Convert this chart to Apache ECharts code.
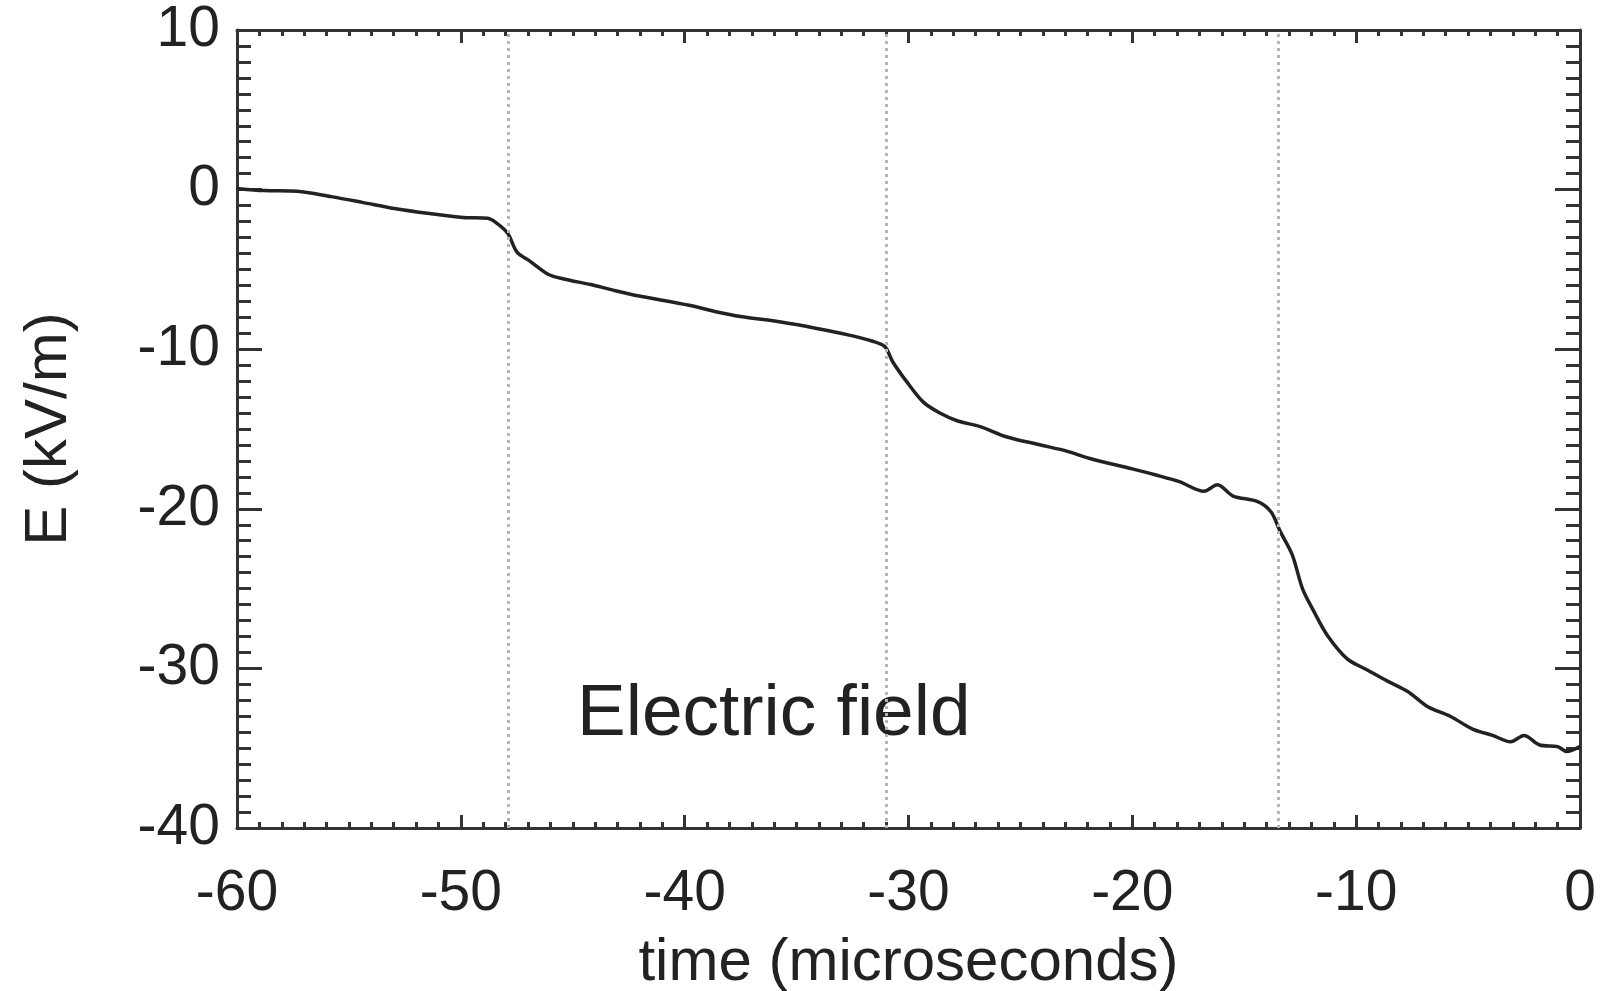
<!DOCTYPE html>
<html>
<head>
<meta charset="utf-8">
<script src="https://cdn.jsdelivr.net/npm/echarts@6/dist/echarts.min.js"></script>
<style>
  html, body { margin: 0; padding: 0; background: #fff; }
  #chart { width: 1602px; height: 991px; }
</style>
</head>
<body>
<div id="chart"></div>
<script>
// time in microseconds, field in kV/m
var timeUs = [
  -60, -59.9, -58.8, -57.3, -55.8, -54.4, -52.9, -51.4, -49.9, -48.8, -48.4,
  -47.9, -47.5, -46.9, -46.1, -45.4, -44.2, -43.2, -42.1, -39.8, -38.6,
  -37.5, -35.7, -34.1, -32.7, -31.6, -31.05, -30.7, -30.1, -29.35, -28.6,
  -27.8, -26.8, -25.6, -24.1, -22.9, -21.9, -20.0, -18.9, -17.9, -16.8,
  -16.2, -15.5, -14.4, -13.8, -13.4, -12.85, -12.4, -11.9, -11.3, -10.4,
  -9.5, -8.6, -7.7, -6.8, -5.8, -4.8, -3.9, -3.1, -2.5, -1.8, -1.0, -0.6, 0
]
var fieldKV = [
  0.1, 0.06, -0.06, -0.1, -0.44, -0.8, -1.2, -1.5, -1.75, -1.8, -2.1,
  -2.75, -3.9, -4.5, -5.3, -5.6, -5.95, -6.3, -6.65, -7.25, -7.65,
  -7.95, -8.3, -8.7, -9.1, -9.5, -9.85, -10.8, -12.0, -13.3, -14.0,
  -14.5, -14.85, -15.5, -16.0, -16.4, -16.85, -17.5, -17.9, -18.3, -18.9,
  -18.5, -19.2, -19.55, -20.2, -21.4, -22.9, -25.0, -26.4, -27.9, -29.4,
  -30.1, -30.8, -31.45, -32.4, -33.0, -33.8, -34.2, -34.6, -34.2, -34.8, -34.9, -35.2, -34.9
]
// dotted markers at the steps
var markerTimes = [-47.9, -31, -13.5]

var FONT = "'Liberation Sans', Arial, sans-serif"
var INK = '#222'

var points = timeUs.map(function (t, i) { return [t, fieldKV[i]] })

var chart = echarts.init(document.getElementById('chart'), null, { renderer: 'canvas' })

function xAxisBase(pos, showLabels) {
  return {
    type: 'value',
    position: pos,
    min: -60,
    max: 0,
    interval: 10,
    axisLine: { show: true, onZero: false, lineStyle: { color: '#333', width: 3 } },
    axisTick: { show: true, inside: true, length: 13, lineStyle: { color: '#333', width: 3 } },
    minorTick: { show: true, splitNumber: 10, length: 6, lineStyle: { color: '#333', width: 3 } },
    splitLine: { show: false },
    axisLabel: { show: showLabels, margin: 38, fontSize: 57, color: INK, fontFamily: FONT }
  }
}
function yAxisBase(pos, showLabels) {
  return {
    type: 'value',
    position: pos,
    min: -40,
    max: 10,
    interval: 10,
    axisLine: { show: true, onZero: false, lineStyle: { color: '#333', width: 3 } },
    axisTick: { show: true, inside: true, length: 25, lineStyle: { color: '#333', width: 3 } },
    minorTick: { show: true, splitNumber: 10, length: 14, lineStyle: { color: '#333', width: 3 } },
    splitLine: { show: false },
    axisLabel: { show: showLabels, margin: 17, fontSize: 57, color: INK, fontFamily: FONT }
  }
}

var xBottom = xAxisBase('bottom', true)
xBottom.name = 'time (microseconds)'
xBottom.nameLocation = 'middle'
xBottom.nameGap = 105
xBottom.nameTextStyle = { fontSize: 60, color: INK, fontFamily: FONT }

var yLeft = yAxisBase('left', true)
yLeft.name = 'E (kV/m)'
yLeft.nameLocation = 'middle'
yLeft.nameGap = 158
yLeft.nameTextStyle = { fontSize: 60, color: INK, fontFamily: FONT }

var option = {
  backgroundColor: '#fff',
  animation: false,
  grid: { left: 237, right: 22, top: 30, bottom: 163, outerBoundsMode: 'none' },
  xAxis: [xBottom, xAxisBase('top', false)],
  yAxis: [yLeft, yAxisBase('right', false)],
  graphic: [
    {
      type: 'text',
      left: 577,
      top: 678,
      style: { text: 'Electric field', fontSize: 73, fill: INK, fontFamily: FONT }
    }
  ],
  series: [
    {
      type: 'line',
      xAxisIndex: 0,
      yAxisIndex: 0,
      data: points,
      showSymbol: false,
      smooth: 0.3,
      lineStyle: { color: INK, width: 3.5 },
      markLine: {
        silent: true,
        symbol: 'none',
        label: { show: false },
        lineStyle: { color: '#b5b5b5', type: [3, 4], width: 3 },
        data: markerTimes.map(function (t) { return { xAxis: t } })
      },
      z: 3
    }
  ]
}
chart.setOption(option)
window.addEventListener('resize', function () { chart.resize() })
</script>
</body>
</html>
